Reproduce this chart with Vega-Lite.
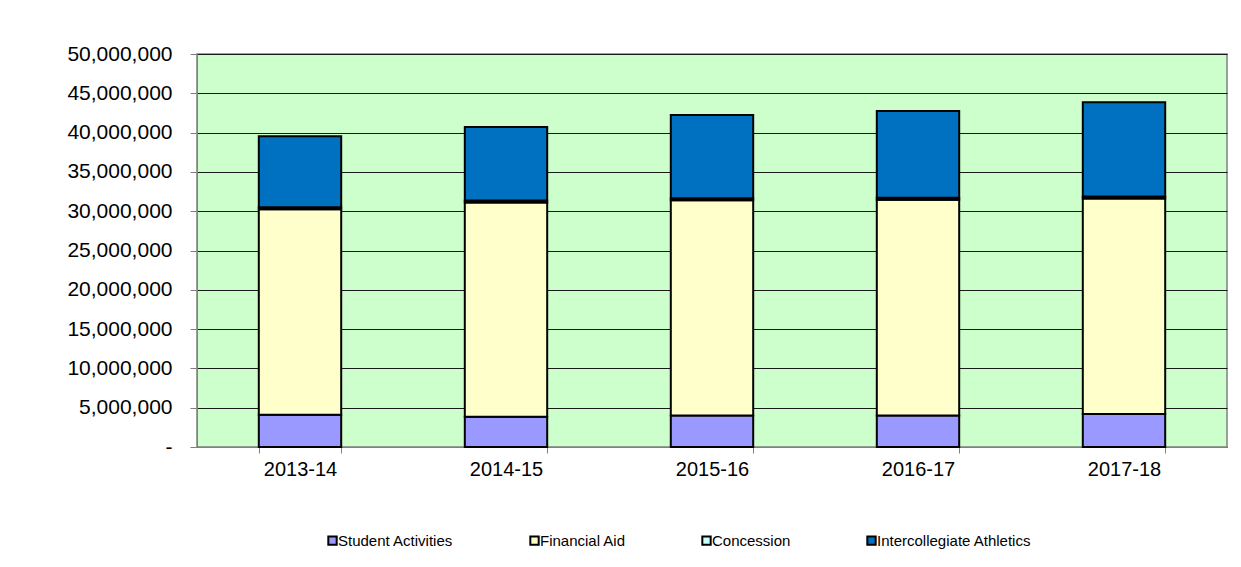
{
  "$schema": "https://vega.github.io/schema/vega-lite/v6.json",
  "width": 1030,
  "height": 393,
  "autosize": {"type": "none"},
  "padding": {"left": 197, "top": 54, "right": 14, "bottom": 120},
  "background": "#ffffff",
  "config": {
    "font": "Liberation Sans",
    "view": {"fill": "#ccffcc", "stroke": "#808080", "strokeWidth": 1.5}
  },
  "data": {
    "values": [
      {"year": "2013-14", "category": "Student Activities", "order": 1, "amount": 4100000},
      {"year": "2013-14", "category": "Financial Aid", "order": 2, "amount": 26150000},
      {"year": "2013-14", "category": "Concession", "order": 3, "amount": 250000},
      {"year": "2013-14", "category": "Intercollegiate Athletics", "order": 4, "amount": 9050000},
      {"year": "2014-15", "category": "Student Activities", "order": 1, "amount": 3860000},
      {"year": "2014-15", "category": "Financial Aid", "order": 2, "amount": 27250000},
      {"year": "2014-15", "category": "Concession", "order": 3, "amount": 250000},
      {"year": "2014-15", "category": "Intercollegiate Athletics", "order": 4, "amount": 9350000},
      {"year": "2015-16", "category": "Student Activities", "order": 1, "amount": 4000000},
      {"year": "2015-16", "category": "Financial Aid", "order": 2, "amount": 27400000},
      {"year": "2015-16", "category": "Concession", "order": 3, "amount": 250000},
      {"year": "2015-16", "category": "Intercollegiate Athletics", "order": 4, "amount": 10600000},
      {"year": "2016-17", "category": "Student Activities", "order": 1, "amount": 4000000},
      {"year": "2016-17", "category": "Financial Aid", "order": 2, "amount": 27450000},
      {"year": "2016-17", "category": "Concession", "order": 3, "amount": 250000},
      {"year": "2016-17", "category": "Intercollegiate Athletics", "order": 4, "amount": 11050000},
      {"year": "2017-18", "category": "Student Activities", "order": 1, "amount": 4200000},
      {"year": "2017-18", "category": "Financial Aid", "order": 2, "amount": 27410000},
      {"year": "2017-18", "category": "Concession", "order": 3, "amount": 250000},
      {"year": "2017-18", "category": "Intercollegiate Athletics", "order": 4, "amount": 12000000}
    ]
  },
  "mark": {"type": "bar", "stroke": "#000000", "strokeWidth": 2},
  "encoding": {
    "x": {
      "field": "year",
      "type": "nominal",
      "sort": null,
      "scale": {"paddingInner": 0.6, "paddingOuter": 0.3},
      "axis": {
        "title": null,
        "labelAngle": 0,
        "labelFont": "Liberation Sans",
        "labelFontSize": 20,
        "labelColor": "#000000",
        "labelPadding": 6,
        "tickBand": "extent",
        "tickSize": 6,
        "tickColor": "#808080",
        "domainColor": "#808080",
        "grid": false
      }
    },
    "y": {
      "field": "amount",
      "type": "quantitative",
      "aggregate": "sum",
      "stack": "zero",
      "scale": {"domain": [0, 50000000], "nice": false},
      "axis": {
        "title": null,
        "values": [0, 5000000, 10000000, 15000000, 20000000, 25000000, 30000000, 35000000, 40000000, 45000000, 50000000],
        "labelExpr": "datum.value === 0 ? '-' : format(datum.value, ',')",
        "labelFont": "Liberation Sans",
        "labelFontSize": 21,
        "labelColor": "#000000",
        "labelPadding": 18,
        "tickSize": 7,
        "tickColor": "#808080",
        "domainColor": "#808080",
        "grid": true,
        "gridColor": "#1a1a1a",
        "gridWidth": 1,
        "encode": {"labels": {"update": {"dx": {"signal": "datum.value === 0 ? -11 : 0"}}}}
      }
    },
    "order": {"field": "order", "type": "quantitative"},
    "color": {
      "field": "category",
      "type": "nominal",
      "scale": {
        "domain": ["Student Activities", "Financial Aid", "Concession", "Intercollegiate Athletics"],
        "range": ["#9999ff", "#ffffcc", "#ccffff", "#0070c0"]
      },
      "legend": {
        "title": null,
        "orient": "none",
        "direction": "horizontal",
        "legendX": 128,
        "legendY": 479,
        "symbolType": "square",
        "symbolSize": 70,
        "symbolStrokeColor": "#000000",
        "symbolStrokeWidth": 2,
        "symbolOpacity": 1,
        "labelFont": "Liberation Sans",
        "labelFontSize": 15,
        "labelColor": "#000000",
        "labelOffset": -2,
        "columnPadding": 72
      }
    }
  }
}
